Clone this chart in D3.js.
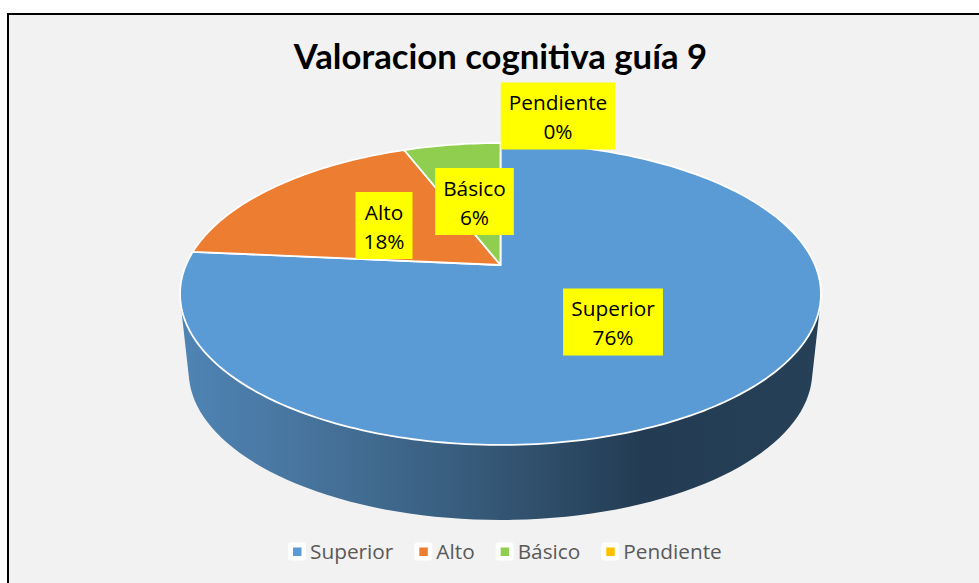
<!DOCTYPE html>
<html>
<head>
<meta charset="utf-8">
<script src="https://cdnjs.cloudflare.com/ajax/libs/d3/7.8.5/d3.min.js"></script>
<style>
  html, body { margin: 0; padding: 0; background: #fff; }
  svg { display: block; }
</style>
</head>
<body>
<div id="chart"></div>
<script>
/* Valoracion cognitiva guia 9 - tilted 3D pie */
const title = "Valoracion cognitiva guía 9";
const categories = ["Superior", "Alto", "Básico", "Pendiente"];
const counts = [13, 3, 1, 0];
const percentLabels = ["76%", "18%", "6%", "0%"];
const colors = ["#5b9bd5", "#ed7d31", "#8fce4e", "#ffc000"];

const width = 979;
const height = 583;

//Label box centres, placed by hand like the original
const labelCentres = [[613, 322], [384, 225.5], [474.5, 201.5], [558, 116]];

const svg = d3.select("#chart").append("svg")
    .attr("width", width)
    .attr("height", height);

//Chart area and the frame, which runs off the right and bottom
svg.append("rect")
    .attr("x", 8).attr("y", 14)
    .attr("width", width).attr("height", height)
    .attr("fill", "#f2f2f2")
    .attr("stroke", "#000")
    .attr("stroke-width", 2);

/*## Projection of the disc ##*/
const topDisc = { cx: 500.5, cy: 265, a: 314.5, b: 145.4, k: 0.192 };
const baseDisc = { cx: 500.5, cy: 343, a: 306, b: 143, k: 0.192 };

function project(disc, angle, r = 1) {
    const u = r * Math.sin(angle), v = r * Math.cos(angle);
    const d = 1 + disc.k * v;
    return [disc.cx + disc.a * u / d, disc.cy - disc.b * v / d];
}

const rim = (disc) => d3.range(0, 361, 2).map(t => project(disc, t * Math.PI / 180));

//Side wall: hull of the two rims
const defs = svg.append("defs");
const wallGrad = defs.append("linearGradient")
    .attr("id", "wall")
    .attr("gradientUnits", "userSpaceOnUse")
    .attr("x1", 180).attr("x2", 821)
    .attr("y1", 0).attr("y2", 0);
wallGrad.selectAll("stop")
    .data([[0, "#4f84b4"], [0.2, "#47749d"], [0.5, "#345674"], [0.72, "#233c53"], [1, "#264058"]])
    .join("stop")
    .attr("offset", d => d[0])
    .attr("stop-color", d => d[1]);

const hull = d3.polygonHull(rim(topDisc).concat(rim(baseDisc)));
svg.append("path")
    .attr("d", d3.line().curve(d3.curveLinearClosed)(hull))
    .attr("fill", "url(#wall)");

/*## Slices ##*/
const color = d3.scaleOrdinal().domain(categories).range(colors);
const pie = d3.pie().sort(null).value(d => d.count);
const slices = pie(categories.map((c, i) => ({ name: c, count: counts[i] })));
const line = d3.line();

svg.append("g").selectAll("path")
    .data(slices.filter(d => d.value > 0))
    .join("path")
    .attr("d", d => {
        const n = Math.ceil((d.endAngle - d.startAngle) / 0.02);
        const pts = d3.range(n + 1).map(i =>
            project(topDisc, d.startAngle + (d.endAngle - d.startAngle) * i / n));
        return line([[topDisc.cx, topDisc.cy], ...pts]) + "Z";
    })
    .attr("fill", d => color(d.data.name))
    .attr("stroke", "#fff")
    .attr("stroke-width", 1.8)
    .attr("stroke-linejoin", "round");

//Title
svg.append("text")
    .attr("x", 500.5).attr("y", 69)
    .attr("text-anchor", "middle")
    .style("font-family", "Lato, 'Open Sans', sans-serif")
    .style("font-weight", 700)
    .style("font-size", "34.7px")
    .attr("fill", "#000")
    .text(title);

/*## Data labels ##*/
const labels = svg.append("g").selectAll("g")
    .data(categories)
    .join("g")
    .attr("transform", (d, i) => `translate(${labelCentres[i][0]},${labelCentres[i][1]})`);

const labelBg = labels.append("rect").attr("fill", "#ffff00");
const labelText = labels.append("text")
    .attr("text-anchor", "middle")
    .style("font-family", "'Open Sans', Lato, sans-serif")
    .style("font-size", "20.8px")
    .attr("fill", "#000");
labelText.append("tspan").attr("x", 0).attr("y", -6).text(d => d);
labelText.append("tspan").attr("x", 0).attr("y", 23).text((d, i) => percentLabels[i]);

labelText.each(function() {
    const w = this.getBBox().width;
    d3.select(this.parentNode).select("rect")
        .attr("x", -w / 2 - 8).attr("width", w + 16)
        .attr("y", -33.5).attr("height", 67);
});

/*## Legend ##*/
const legend = svg.append("g");
let legendX = 288;
categories.forEach((c, i) => {
    const g = legend.append("g").attr("transform", `translate(${legendX},0)`);
    g.append("rect")
        .attr("x", 0).attr("y", 542.5)
        .attr("width", 18).attr("height", 18)
        .attr("rx", 3)
        .attr("fill", "#fff");
    g.append("rect")
        .attr("x", 5).attr("y", 547.5)
        .attr("width", 8.5).attr("height", 8.5)
        .attr("fill", colors[i]);
    const t = g.append("text")
        .attr("x", 22).attr("y", 559)
        .style("font-family", "'Open Sans', Lato, sans-serif")
        .style("font-size", "20.8px")
        .attr("fill", "#595959")
        .text(c);
    legendX += 22 + t.node().getComputedTextLength() + 21;
});
</script>
</body>
</html>
